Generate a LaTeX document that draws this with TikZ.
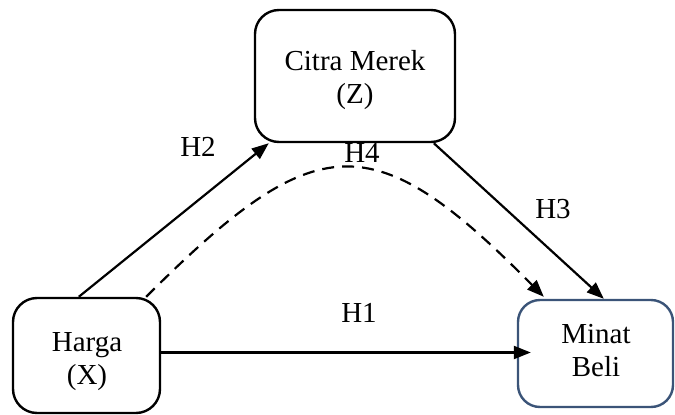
\documentclass[tikz,border=0pt]{standalone}
\usepackage{fontspec}
\setmainfont{Liberation Serif}
\usetikzlibrary{arrows.meta,calc}

\tikzset{
  box/.style={draw=black, line width=2.4pt, rounded corners=24pt, inner sep=0pt},
  txt/.style={align=center, inner sep=0pt, font=\fontsize{29}{33}\selectfont},
  link/.style={line width=2.2pt, -{Triangle[length=17pt,width=13pt]}},
  hyp/.style={font=\fontsize{29}{33}\selectfont, inner sep=0pt},
}

\begin{document}
\begin{tikzpicture}[x=1pt,y=-1pt]
  \useasboundingbox (0,0) rectangle (675,415);

  % variable boxes
  \node[box, minimum width=147pt, minimum height=115pt] (harga) at (86.5,355.5) {};
  \node[box, minimum width=200pt, minimum height=132pt] (citra) at (355,76) {};
  \node[box, draw={rgb,255:red,59;green,84;blue,120}, rounded corners=22pt,
        minimum width=155pt, minimum height=107pt] (minat) at (595.5,353.5) {};

  % variable names
  \node[txt] (hargaT) at (87,362) {Harga\\(X)};
  \node[txt] (citraT) at (355,80) {Citra Merek\\(Z)};
  \node[txt] (minatT) at (596,351) {Minat\\Beli};

  % connector end points on the box borders
  \coordinate (h2s) at ($(harga.north west)+(67,0)$);
  \coordinate (h2e) at ($(citra.south west)+(15,0)$);
  \coordinate (h3s) at ($(citra.south west)+(180,0)$);
  \coordinate (h3e) at ($(minat.north west)+(87,0)$);
  \coordinate (h4s) at ($(harga.north east)+(-15,0)$);
  \coordinate (h4e) at ($(minat.north west)+(27,-2)$);
  \coordinate (h1s) at ($(harga.east)+(0,-3)$);
  \coordinate (h1e) at (h1s -| minat.west);

  % paths
  \draw[link] (h2s) -- (h2e);
  \draw[link] (h3s) -- (h3e);
  \draw[link] (h1s) -- ($(h1e)+(14,0)$);
  \draw[link, dash pattern=on 12pt off 8pt]
    (h4s) .. controls (317,126) and (373,124) .. (h4e);

  % hypothesis labels
  \node[hyp] (lh2) at (198,147) {H2};
  \node[hyp] (lh4) at (362,153) {H4};
  \node[hyp] (lh3) at (553,209) {H3};
  \node[hyp] (lh1) at (359,313) {H1};
\end{tikzpicture}
\end{document}
